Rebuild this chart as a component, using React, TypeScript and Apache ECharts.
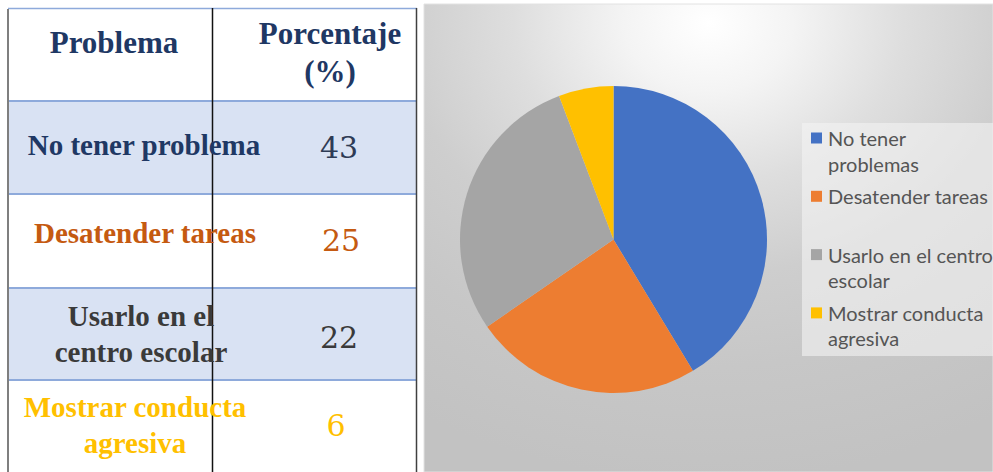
import React, { useEffect, useRef } from "react";
import * as echarts from "echarts";

// ---- data ----
const tableHeaders = ["Problema", "Porcentaje\n(%)"];
const tableLabels = [
  "No tener problema",
  "Desatender tareas",
  "Usarlo en el\ncentro escolar",
  "Mostrar conducta\nagresiva",
];
const tableValues = [43, 25, 22, 6];

const pieNames = [
  "No tener\nproblemas",
  "Desatender tareas",
  "Usarlo en el centro\nescolar",
  "Mostrar conducta\nagresiva",
];
const pieValues = [43, 25, 30, 6];
const pieColors = ["#4472C4", "#ED7D31", "#A5A5A5", "#FFC000"];

// ---- styles / layout (not data) ----
const rowTextColors = ["#1F3864", "#C55A11", "#3A3A3A", "#FFC000"];
const numTextColors = ["#2E3B55", "#C55A11", "#3A3A3A", "#FFC000"];
const rowTops = [101, 194, 288, 380];
const rowBottom = 472;
const rowLabelX = [144, 145, 141, 135];
const rowLabelY = [145, 233, 333.5, 424.5];
const rowNumX = [339, 341, 339, 336];
const rowNumY = [147, 240, 337, 425];
const rowFill = ["#D9E2F3", "#FFFFFF", "#D9E2F3", "#FFFFFF"];

export default function App() {
  const ref = useRef<HTMLDivElement>(null);

  useEffect(() => {
    if (!ref.current) return;
    const chart = echarts.init(ref.current, null, { renderer: "svg" });

    const serif = "'Liberation Serif', serif";
    const graphics: any[] = [];

    // right panel background
    graphics.push({
      type: "rect",
      z: -10,
      shape: { x: 424, y: 4, width: 569, height: 468 },
      style: {
        fill: new echarts.graphic.RadialGradient(0.5, 0.04, 0.98, [
          { offset: 0, color: "#ffffff" },
          { offset: 0.15, color: "#f4f4f4" },
          { offset: 0.35, color: "#dedede" },
          { offset: 0.55, color: "#cecece" },
          { offset: 0.75, color: "#c7c7c7" },
          { offset: 1, color: "#c2c2c2" },
        ]),
        stroke: "#e2e2e2",
        lineWidth: 1,
      },
    });

    // legend box
    graphics.push({
      type: "rect",
      z: -5,
      shape: { x: 802, y: 123, width: 191, height: 233 },
      style: { fill: "rgba(243,243,243,0.6)" },
    });
    pieNames.forEach((name, i) => {
      const cy = 138 + i * 58.3;
      graphics.push({
        type: "rect",
        shape: { x: 811, y: cy - 5.5, width: 11, height: 11 },
        style: { fill: pieColors[i] },
      });
      graphics.push({
        type: "text",
        x: 828,
        y: cy - 12.75,
        style: {
          text: name,
          font: "20px Lato, sans-serif",
          fill: "#555555",
          lineHeight: 25.5,
          align: "left",
          verticalAlign: "top",
        },
      });
    });

    // table row fills
    rowTops.forEach((top, i) => {
      const bottom = i < rowTops.length - 1 ? rowTops[i + 1] : rowBottom;
      graphics.push({
        type: "rect",
        z: -8,
        shape: { x: 8, y: top, width: 408.5, height: bottom - top },
        style: { fill: rowFill[i] },
      });
    });

    // table lines
    const lines = [
      { x1: 8, y1: 8.5, x2: 417, y2: 8.5, c: "#8EAADB", w: 1.5 },
      ...rowTops.map((t) => ({ x1: 8, y1: t, x2: 417, y2: t, c: "#8EAADB", w: 2 })),
      { x1: 8, y1: 9, x2: 8, y2: 472, c: "#7F7F7F", w: 2 },
      { x1: 416.5, y1: 8, x2: 416.5, y2: 472, c: "#404040", w: 1.5 },
      { x1: 212.5, y1: 8, x2: 212.5, y2: 472, c: "#111111", w: 1.5 },
    ];
    lines.forEach((l) =>
      graphics.push({
        type: "line",
        z: 5,
        shape: { x1: l.x1, y1: l.y1, x2: l.x2, y2: l.y2 },
        style: { stroke: l.c, lineWidth: l.w },
      })
    );

    // headers
    graphics.push({
      type: "text",
      z: 6,
      x: 114,
      y: 42,
      style: {
        text: tableHeaders[0],
        font: `bold 31px ${serif}`,
        fill: "#1F3864",
        align: "center",
        verticalAlign: "middle",
      },
    });
    graphics.push({
      type: "text",
      z: 6,
      x: 330,
      y: 52.5,
      style: {
        text: tableHeaders[1],
        font: `bold 31px ${serif}`,
        fill: "#1F3864",
        lineHeight: 38,
        align: "center",
        verticalAlign: "middle",
      },
    });

    // rows
    tableLabels.forEach((label, i) => {
      graphics.push({
        type: "text",
        z: 6,
        x: rowLabelX[i],
        y: rowLabelY[i],
        style: {
          text: label,
          font: `bold 29px ${serif}`,
          fill: rowTextColors[i],
          lineHeight: 36,
          align: "center",
          verticalAlign: "middle",
        },
      });
      graphics.push({
        type: "text",
        z: 6,
        x: rowNumX[i],
        y: rowNumY[i],
        style: {
          text: String(tableValues[i]),
          font: `30px 'DejaVu Serif', serif`,
          fill: numTextColors[i],
          align: "center",
          verticalAlign: "middle",
        },
      });
    });

    chart.setOption({
      animation: false,
      backgroundColor: "#ffffff",
      graphic: graphics,
      series: [
        {
          type: "pie",
          center: [613.5, 239.5],
          radius: 153.5,
          startAngle: 90,
          clockwise: true,
          silent: true,
          label: { show: false },
          labelLine: { show: false },
          itemStyle: { borderWidth: 0 },
          data: pieNames.map((n, i) => ({
            name: n,
            value: pieValues[i],
            itemStyle: { color: pieColors[i] },
          })),
        },
      ],
    });

    return () => chart.dispose();
  }, []);

  return (
    <div
      ref={ref}
      style={{ position: "fixed", left: 0, top: 0, width: 993, height: 472 }}
    />
  );
}
